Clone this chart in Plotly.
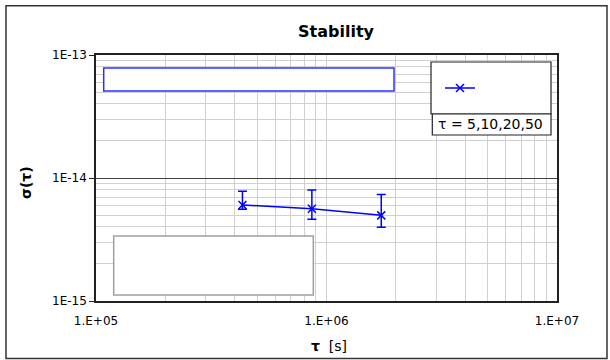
import plotly.graph_objects as go

# ---- data ----
tau_s = [432000, 864000, 1728000]
sigma = [6.04e-15, 5.63e-15, 4.97e-15]
err_plus = [1.76e-15, 2.36e-15, 2.36e-15]
err_minus = [0.47e-15, 1.01e-15, 0.99e-15]

x_tickvals = [1e5, 1e6, 1e7]
x_ticktext = ["1.E+05", "1.E+06", "1.E+07"]
y_tickvals = [1e-15, 1e-14, 1e-13]
y_ticktext = ["1E-15", "1E-14", "1E-13"]

title_text = "Stability"
y_title = "<b>σ(τ)</b>"
x_title = "<b>τ</b>  [s]"
note_text = "τ = 5,10,20,50"

BLUE = "#0000FF"
FONT = "DejaVu Sans"

fig = go.Figure()
fig.add_trace(go.Scatter(
    x=tau_s, y=sigma, name=" ", mode="lines+markers",
    line=dict(color=BLUE, width=1.5),
    marker=dict(symbol="x-thin", size=8, line=dict(color=BLUE, width=1.5), color=BLUE),
    error_y=dict(type="data", symmetric=False, array=err_plus, arrayminus=err_minus,
                 color=BLUE, thickness=1.5, width=4.5),
))

W, H = 610, 360
L, R, T, B = 96, 53, 55, 59
pw, ph = W - L - R, H - T - B


def px(x):
    return (x - L) / pw


def py(y):
    return (H - B - y) / ph


grid = "#d0d0d0"
fig.update_xaxes(
    type="log", range=[5, 7], tickvals=x_tickvals, ticktext=x_ticktext,
    showgrid=True, gridcolor=grid, gridwidth=1, ticks="",
    showline=True, linecolor="#222222", linewidth=1.5, mirror=True,
    tickfont=dict(family=FONT, size=12, color="black"),
    minor=dict(dtick="D1", showgrid=True, gridcolor=grid, gridwidth=1, ticks=""),
    zeroline=False, ticklabelstandoff=8,
)
fig.update_yaxes(
    type="log", range=[-15, -13], tickvals=y_tickvals, ticktext=y_ticktext,
    showgrid=True, gridcolor="#404040", gridwidth=1, ticks="outside", ticklen=5,
    tickcolor="#222222",
    showline=True, linecolor="#222222", linewidth=1.5, mirror=True,
    tickfont=dict(family=FONT, size=12, color="black"),
    minor=dict(dtick="D1", showgrid=True, gridcolor=grid, gridwidth=1, ticks=""),
    zeroline=False,
)

shapes = [
    # outer chart border
    dict(type="rect", xref="paper", yref="paper", x0=px(6), x1=px(607), y0=py(358.5), y1=py(5.7),
         line=dict(color="#333333", width=1.5), fillcolor="rgba(0,0,0,0)", layer="below"),
    # blue empty box
    dict(type="rect", xref="paper", yref="paper", x0=px(103.7), x1=px(394), y0=py(91), y1=py(68),
         line=dict(color="#3030FF", width=1.5), fillcolor="white", layer="above"),
    # gray empty box
    dict(type="rect", xref="paper", yref="paper", x0=px(113.7), x1=px(313.3), y0=py(295), y1=py(236),
         line=dict(color="#a0a0a0", width=1.5), fillcolor="white", layer="above"),
    # legend box
    dict(type="rect", xref="paper", yref="paper", x0=px(431), x1=px(551), y0=py(114), y1=py(62),
         line=dict(color="#222222", width=1.2), fillcolor="white", layer="above"),
    # note box
    dict(type="rect", xref="paper", yref="paper", x0=px(432.3), x1=px(551), y0=py(135), y1=py(114),
         line=dict(color="#222222", width=1.2), fillcolor="white", layer="above"),
]

annotations = [
    dict(text=y_title, xref="paper", yref="paper", x=px(26), y=py(183), textangle=-90,
         showarrow=False, font=dict(family=FONT, size=14, color="black"),
         xanchor="center", yanchor="middle"),
    dict(text=x_title, xref="paper", yref="paper", x=px(328.5), y=py(346),
         showarrow=False, font=dict(family=FONT, size=14, color="black"),
         xanchor="center", yanchor="middle"),
    dict(text=note_text, xref="paper", yref="paper", x=px(435.5), y=py(124.5),
         showarrow=False, font=dict(family=FONT, size=14, color="black"),
         xanchor="left", yanchor="middle"),
]

fig.update_layout(
    width=W, height=H,
    margin=dict(l=L, r=R, t=T, b=B, pad=0),
    paper_bgcolor="white", plot_bgcolor="white",
    title=dict(text="<b>" + title_text + "</b>", x=336 / W, xref="container", xanchor="center",
               y=1 - 31 / H, yref="container", yanchor="middle",
               font=dict(family=FONT, size=16, color="black")),
    showlegend=True,
    legend=dict(x=px(440), y=py(88), xanchor="left", yanchor="middle",
                bgcolor="rgba(0,0,0,0)", borderwidth=0, itemwidth=30,
                font=dict(family=FONT, size=12)),
    shapes=shapes, annotations=annotations,
)

fig.write_html("out.html", config={"displayModeBar": False},
               post_script="document.body.style.margin='0px';document.body.style.overflow='hidden';")
